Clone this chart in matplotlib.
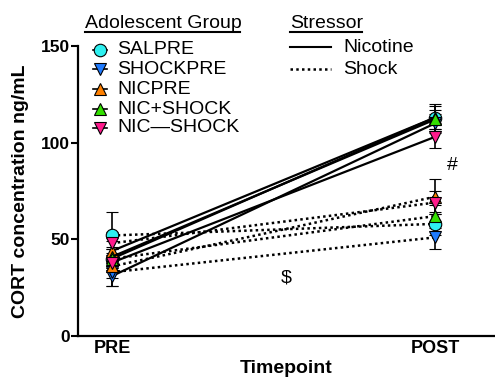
import matplotlib
matplotlib.use("Agg")
import matplotlib.pyplot as plt
from matplotlib.lines import Line2D

plt.rcParams['font.family'] = ['Liberation Sans', 'DejaVu Sans']

groups = ["SALPRE", "SHOCKPRE", "NICPRE", "NIC+SHOCK", "NIC\u2014SHOCK"]
colors = ["#2EF0F0", "#1F7BFF", "#FF8000", "#33E000", "#FF1A8C"]
markers = ["o", "v", "^", "^", "v"]
timepoints = ["PRE", "POST"]

# Nicotine stressor (solid lines): PRE, POST means and SEM
nic_pre = [40, 31, 44, 41, 38]
nic_post = [113, 110, 113, 112, 103]
nic_pre_err = [5, 5, 5, 5, 5]
nic_post_err = [7, 5, 6, 5, 6]

# Shock stressor (dotted lines)
shk_pre = [52, 33, 36, 40, 48]
shk_post = [58, 51, 72, 62, 69]
shk_pre_err = [12, 7, 6, 5, 6]
shk_post_err = [6, 6, 9, 6, 6]

annotations = [("#", 1.053, 88), ("$", 0.54, 30)]

fig = plt.figure(figsize=(4.95, 3.81), dpi=100)
ax = fig.add_axes([78/495, 45/381, 1 - 78/495, (336-46)/381])

x = [0, 1]
for i in range(len(groups)):
    ax.errorbar(x, [nic_pre[i], nic_post[i]], yerr=[nic_pre_err[i], nic_post_err[i]],
                color="black", ls="-", lw=1.6, capsize=4, elinewidth=1.2, capthick=1.2,
                marker=markers[i], mfc=colors[i], mec="black", mew=0.8, ms=9, zorder=3)
    ax.errorbar(x, [shk_pre[i], shk_post[i]], yerr=[shk_pre_err[i], shk_post_err[i]],
                color="black", ls=(0, (1, 1.3)), lw=1.8, capsize=4, elinewidth=1.2, capthick=1.2,
                marker=markers[i], mfc=colors[i], mec="black", mew=0.8, ms=9, zorder=3)

for s, xv, yv in annotations:
    ax.text(xv, yv, s, fontsize=14, ha="center", va="center")

ax.set_xlim(-34/323, 1 + 60/323)
ax.set_ylim(0, 150)
ax.set_yticks([0, 50, 100, 150])
ax.set_xticks(x)
ax.set_xticklabels(timepoints)
ax.tick_params(axis="x", length=0, pad=3, labelsize=13)
ax.tick_params(axis="y", length=5, width=1.5, labelsize=12.5, pad=1)
for lab in ax.get_xticklabels() + ax.get_yticklabels():
    lab.set_fontweight("bold")
for sp in ["top", "right"]:
    ax.spines[sp].set_visible(False)
for sp in ["left", "bottom"]:
    ax.spines[sp].set_linewidth(1.6)
ax.set_ylabel("CORT concentration ng/mL", fontsize=14, fontweight="bold", labelpad=8)
ax.set_xlabel("Timepoint", fontsize=14, fontweight="bold", labelpad=2)

def fx(px):
    return px / 495
def fy(py):
    return 1 - py / 381

# Adolescent Group legend
fig.text(fx(85), fy(23), "Adolescent Group", fontsize=14, ha="left", va="center")
fig.add_artist(Line2D([fx(85), fx(240)], [fy(32), fy(32)], color="black", lw=1.5))
rows = [50, 69, 89, 109, 128]
for i, g in enumerate(groups):
    fig.add_artist(Line2D([fx(93), fx(107)], [fy(rows[i]), fy(rows[i])], color="black", lw=1.2))
    fig.add_artist(Line2D([fx(100)], [fy(rows[i])], marker=markers[i], mfc=colors[i],
                          mec="black", mew=0.8, ms=9, ls="none"))
    fig.text(fx(117), fy(rows[i]), g, fontsize=14, ha="left", va="center")

# Stressor legend
fig.text(fx(290), fy(23), "Stressor", fontsize=14, ha="left", va="center")
fig.add_artist(Line2D([fx(290), fx(362)], [fy(32), fy(32)], color="black", lw=1.5))
fig.add_artist(Line2D([fx(290), fx(331)], [fy(47), fy(47)], color="black", lw=1.5))
fig.text(fx(343), fy(47), "Nicotine", fontsize=14, ha="left", va="center")
fig.add_artist(Line2D([fx(290), fx(331)], [fy(69), fy(69)], color="black", lw=1.8, ls=(0, (1, 1.3))))
fig.text(fx(343), fy(69), "Shock", fontsize=14, ha="left", va="center")

fig.savefig("out.png", dpi=100)
